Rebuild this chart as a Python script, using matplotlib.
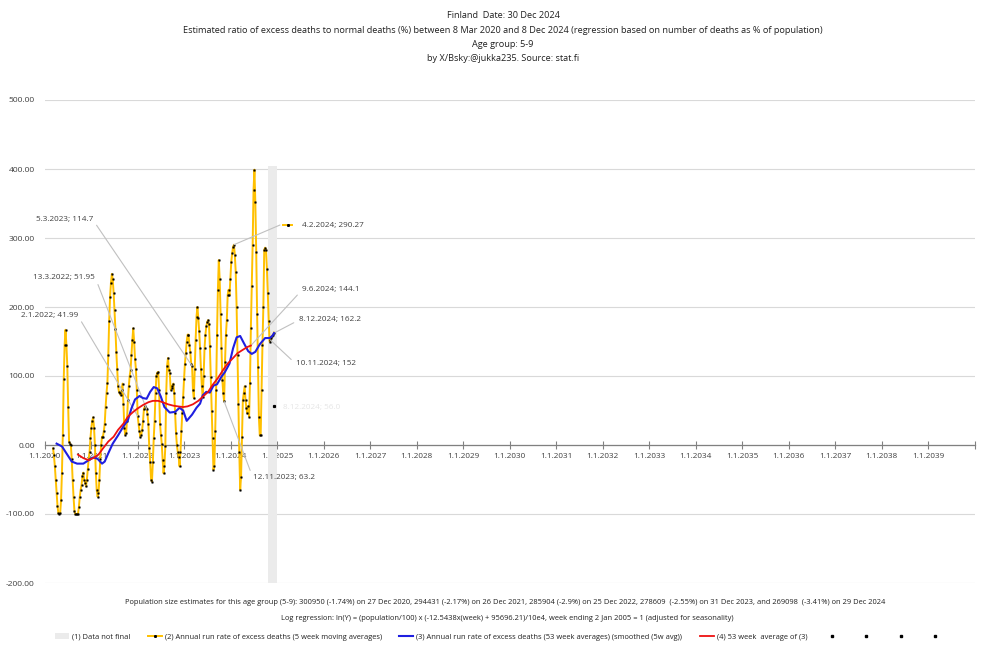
import numpy as np
import matplotlib
matplotlib.use('Agg')
import matplotlib.pyplot as plt
from matplotlib.lines import Line2D
from matplotlib.patches import Patch

plt.rcParams['font.family'] = ['Open Sans', 'DejaVu Sans']

# ---- data ----
start_date = '2020-03-08'   # first week ending

# (2) annual run rate of excess deaths, 5 week moving averages, weekly from 8 Mar 2020
excess_5w = [
    -5, -15, -30, -50, -70, -88, -99, -100, -99, -80,
    -40, 15, 95, 145, 167, 145, 115, 55, 5, 2,
    0, -20, -50, -75, -95, -100, -100, -100, -100, -90,
    -75, -65, -58, -45, -40, -50, -55, -60, -50, -35,
    -20, -10, 10, 25, 35, 40, 25, 0, -40, -65,
    -75, -70, -50, -20, 0, 12, 12, 20, 31, 55,
    75, 90, 130, 180, 215, 235, 248, 240, 220, 195,
    168, 135, 110, 85, 77, 75, 72, 80, 89, 60,
    25, 15, 17, 35, 65, 85, 100, 109, 130, 152,
    169, 150, 125, 110, 80, 41.99, 30, 20, 12, 15,
    22, 35, 52, 56, 53, 51.95, 45, 30, -5, -25,
    -50, -53, -25, 10, 35, 75, 100, 105, 106, 80,
    31, 15, 2, -22, -41, -30, -2, 75, 115, 126,
    109, 104, 80, 83, 86, 89, 75, 46, 17, 0,
    -10, -17, -31, -10, 20, 46, 70, 95, 118, 133,
    150, 160, 160, 145, 135, 118, 114.7, 80, 68, 110,
    152, 186, 200, 184, 165, 140, 110, 85, 70, 100,
    140, 160, 172, 178, 181, 175, 143, 99, 50, 10,
    -36, -30, 20, 80, 160, 225, 268, 240, 190, 140,
    94, 75, 63.2, 120, 160, 181, 218, 225, 217, 240,
    265, 278, 287, 290.27, 275, 251, 200, 130, 60, -10,
    -65, -46, 12, 65, 75, 85, 65, 53, 46, 56,
    41, 90, 170, 230, 290, 370, 399, 352, 280, 190,
    113, 40, 14, 14, 80, 145, 200, 283, 286, 283,
    255, 220, 180, 150, 152, 155, 158, 160, 163,
]

# (3) 53 week averages (smoothed), week number since start
avg53_week = [4, 10, 15, 21, 27, 34, 40, 45, 50, 55, 58, 62, 67, 73, 79, 84, 88, 92,
              97, 101, 105, 109, 113, 117, 121, 125, 131, 137, 142, 146, 150, 156,
              161, 165, 168, 172, 176, 180, 184, 189, 193, 198, 202, 206, 210, 214,
              219, 223, 227, 232, 238, 243, 246, 248]
avg53_value = [2, -2, -12, -24, -27, -27, -22, -18, -20, -27, -24, -12, 2, 14, 27, 36, 53, 66,
               71, 68, 67, 77, 84, 82, 70, 55, 47, 48, 54, 50, 35, 44,
               54, 60, 72, 77, 76, 86, 88, 99, 106, 118, 140, 156, 158, 148,
               136, 132, 135, 146, 155, 155, 158, 162.2]

# (4) 53 week average of (3)
avg_of3_week = [28, 34, 40, 45, 51, 56, 62, 68, 73, 79, 84, 90, 95, 101, 107, 112, 118, 123,
                129, 135, 140, 146, 151, 157, 163, 168, 174, 179, 185, 191, 196, 202,
                207, 213, 218, 222]
avg_of3_value = [-14, -19, -22, -19, -14, -5, 5, 12, 22, 31, 41, 48, 53, 58, 62, 64, 64, 62,
                 59, 57, 56, 55, 56, 59, 64, 70, 77, 87, 97, 109, 118, 126,
                 133, 138, 142, 144.1]

# (1) data not final
not_final_start = '2024-10-20'
not_final_end = '2024-12-31'
not_final_top = 405

# lone marker point at the end
extra_date = '2024-12-08'
extra_value = 56

year_ticks = list(range(2020, 2041))

# labels on the left: (week number, text)
labels_left = [
    (95, '2.1.2022; 41.99'),
    (105, '13.3.2022; 51.95'),
    (156, '5.3.2023; 114.7'),
]


def dec_year(d):
    d = np.asarray(d, dtype='datetime64[D]')
    return 2020 + (d - np.datetime64('2020-01-01')).astype(float) / 365.25


def week_x(w):
    return dec_year(np.datetime64(start_date) + np.asarray(w) * 7)


weeks = np.arange(len(excess_5w))
x_y = week_x(weeks)
x_b = week_x(avg53_week)
x_r = week_x(avg_of3_week)

YEL = '#FFC000'
BLUE = '#1f1fe0'
RED = '#ee1111'
LEAD = '#c0c0c0'
TXT = '#404040'
FS = 5.9

fig = plt.figure(figsize=(10, 6.49), dpi=100)
ax = fig.add_axes([0.0445, 1 - 583 / 649, 0.93, (583 - 100) / 649])

ax.fill_between([dec_year(not_final_start), dec_year(not_final_end)], -200, not_final_top,
                color='#ebebeb', lw=0, zorder=1)

ax.plot(x_y, excess_5w, color=YEL, lw=1.4, marker='s', ms=1.1, mfc='black', mec='black',
        mew=0.3, zorder=3)
ax.plot(x_b, avg53_value, color=BLUE, lw=1.5, zorder=4)
ax.plot(x_r, avg_of3_value, color=RED, lw=1.3, zorder=5)
ax.plot([dec_year(extra_date)], [extra_value], 's', color='black', ms=1.3, zorder=5)

ax.set_xlim(dec_year('2020-01-01'), dec_year('2040-01-01'))
ax.set_ylim(-200, 500)
ax.set_yticks(range(-200, 501, 100))
ax.set_yticklabels([f'{v:.2f}' for v in range(-200, 501, 100)])
ax.yaxis.grid(True, color='#d9d9d9', lw=0.8, zorder=0)
ax.set_axisbelow(True)
ax.tick_params(axis='y', length=0, pad=7, labelsize=6.1, labelcolor=TXT)

xt = [dec_year(f'{y}-01-01') for y in year_ticks]
ax.set_xticks(xt)
ax.set_xticklabels([f'1.1.{y}' if y < 2040 else '' for y in year_ticks])
ax.tick_params(axis='x', direction='inout', length=6, width=0.8, color='#808080',
               pad=3, labelsize=FS, labelcolor=TXT)

for s in ['left', 'right', 'top']:
    ax.spines[s].set_visible(False)
ax.spines['bottom'].set_position(('data', 0))
ax.spines['bottom'].set_color('#808080')
ax.spines['bottom'].set_linewidth(0.9)
ax.spines['bottom'].set_zorder(2)


def px_x(px):
    return 2020 + (px - 44.5) / 46.5


def px_v(py):
    return (445 - py) / 0.69


ann_kw = dict(fontsize=FS, color=TXT, va='center', textcoords='data', annotation_clip=False)

for (w, txt), (tx, ty) in zip(labels_left, [(78, 316), (95, 277), (93, 220)]):
    ax.annotate(txt, xy=(week_x(w), excess_5w[w]), xytext=(px_x(tx), px_v(ty)), ha='right',
                arrowprops=dict(arrowstyle='-', color=LEAD, lw=0.8, shrinkA=1, shrinkB=0,
                                relpos=(1, 0.5)), **ann_kw)

ax.annotate('12.11.2023; 63.2', xy=(week_x(192), excess_5w[192]),
            xytext=(px_x(253), px_v(478)), ha='left',
            arrowprops=dict(arrowstyle='-', color=LEAD, lw=0.8, shrinkA=1, shrinkB=0,
                            relpos=(0, 0.5)), **ann_kw)

# label with legend key
ax.annotate('', xy=(week_x(203), excess_5w[203]), xytext=(px_x(280), px_v(225)),
            arrowprops=dict(arrowstyle='-', color=LEAD, lw=0.8, shrinkA=0, shrinkB=0),
            annotation_clip=False)
ax.plot([px_x(283), px_x(292)], [px_v(225)] * 2, color=YEL, lw=1.4, zorder=3)
ax.plot([px_x(287.5)], [px_v(225)], 's', color='black', ms=1.1, zorder=4)
ax.text(px_x(302), px_v(225), '4.2.2024; 290.27', fontsize=FS, color=TXT, va='center')

ax.annotate('9.6.2024; 144.1', xy=(x_r[-1], avg_of3_value[-1]),
            xytext=(px_x(302), px_v(290)), ha='left',
            arrowprops=dict(arrowstyle='-', color=LEAD, lw=0.8, shrinkA=2, shrinkB=0,
                            relpos=(0, 0.5)), **ann_kw)
ax.annotate('8.12.2024; 162.2', xy=(x_b[-1], avg53_value[-1]),
            xytext=(px_x(299), px_v(320)), ha='left',
            arrowprops=dict(arrowstyle='-', color=LEAD, lw=0.8, shrinkA=2, shrinkB=0,
                            relpos=(0, 0.5)), **ann_kw)
ax.annotate('10.11.2024; 152', xy=(week_x(244), excess_5w[244]),
            xytext=(px_x(296), px_v(364)), ha='left',
            arrowprops=dict(arrowstyle='-', color=LEAD, lw=0.8, shrinkA=2, shrinkB=0,
                            relpos=(0, 0.5)), **ann_kw)
ax.text(px_x(283), px_v(407), f'8.12.2024; {extra_value:.1f}', fontsize=FS,
        color='#e6e6e6', va='center')

# titles
title_lines = [
    'Finland  Date: 30 Dec 2024',
    'Estimated ratio of excess deaths to normal deaths (%) between 8 Mar 2020 and 8 Dec 2024 '
    '(regression based on number of deaths as % of population)',
    'Age group: 5-9',
    'by X/Bsky:@jukka235. Source: stat.fi',
]
for k, line in enumerate(title_lines):
    fig.text(0.503, 1 - (16 + 14.3 * k) / 649, line, ha='center', va='center',
             fontsize=6.6, color='#202020')

fig.text(0.505, 1 - 603 / 649,
         'Population size estimates for this age group (5-9): 300950 (-1.74%) on 27 Dec 2020, '
         '294431 (-2.17%) on 26 Dec 2021, 285904 (-2.9%) on 25 Dec 2022, 278609  (-2.55%) on '
         '31 Dec 2023, and 269098  (-3.41%) on 29 Dec 2024',
         ha='center', va='center', fontsize=5.4, color='#202020')
fig.text(0.507, 1 - 618 / 649,
         'Log regression: ln(Y) = (population/100) x (-12.5438x(week) + 95696.21)/10e4, '
         'week ending 2 Jan 2005 = 1 (adjusted for seasonality)',
         ha='center', va='center', fontsize=5.4, color='#202020')

handles = [
    Patch(facecolor='#ebebeb', edgecolor='none'),
    Line2D([], [], color=YEL, lw=1.4, marker='s', ms=1.1, mfc='black', mec='black'),
    Line2D([], [], color=BLUE, lw=1.5),
    Line2D([], [], color=RED, lw=1.3),
] + [Line2D([], [], ls='none', marker='s', ms=1.5, color='black') for _ in range(4)]
labels = [
    '(1) Data not final',
    '(2) Annual run rate of excess deaths (5 week moving averages)',
    '(3) Annual run rate of excess deaths (53 week averages) (smoothed (5w avg))',
    '(4) 53 week  average of (3)',
    '', '', '', '',
]
fig.legend(handles, labels, loc='center', bbox_to_anchor=(0.5, 1 - 637 / 649), ncol=8,
           frameon=False, fontsize=5.4, handlelength=1.9, handletextpad=0.4,
           columnspacing=2.3, labelcolor='#202020')

fig.savefig('out.png', dpi=100)
